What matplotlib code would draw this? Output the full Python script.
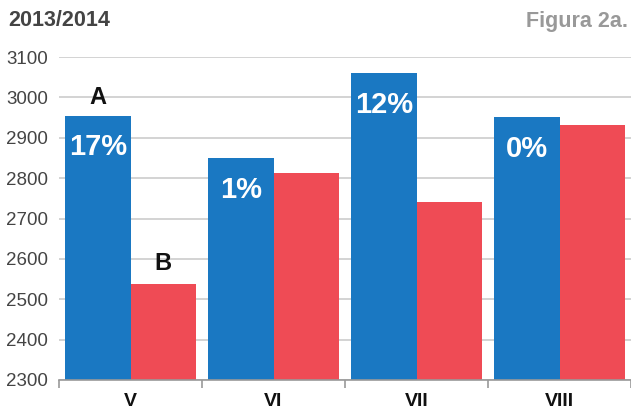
import matplotlib
matplotlib.use("Agg")
import matplotlib.pyplot as plt
import numpy as np

plt.rcParams['font.family'] = ['Liberation Sans', 'DejaVu Sans']

categories = ["V", "VI", "VII", "VIII"]
series_a = [2955, 2850, 3060, 2952]
series_b = [2537, 2812, 2742, 2932]
pct_labels = ["17%", "1%", "12%", "0%"]
yticks = [2300, 2400, 2500, 2600, 2700, 2800, 2900, 3000, 3100]

blue = "#1a78c2"
red = "#ef4b55"

fig = plt.figure(figsize=(6.31, 4.12), dpi=100)
ax = fig.add_axes([59/631, 1-380/412, 1-59/631, (380-57)/412])

x = np.arange(len(categories))
w = 0.455
ax.bar(x - w/2, series_a, width=w, color=blue, zorder=3)
ax.bar(x + w/2, series_b, width=w, color=red, zorder=3)

ax.set_ylim(2300, 3100)
ax.set_xlim(-0.5, 3.5)
ax.set_yticks(yticks)
ax.set_yticklabels([str(t) for t in yticks], fontsize=13.5, color="#444444")
ax.yaxis.grid(True, color="#cccccc", linewidth=1.2, zorder=0)
ax.tick_params(axis='y', length=0, pad=8)

ax.set_xticks([-0.5, 0.5, 1.5, 2.5, 3.5])
ax.set_xticklabels([])
ax.tick_params(axis='x', length=6, color="#999999", width=1.2, direction='out')
ax.set_xticks(x, minor=True)
ax.set_xticklabels(categories, minor=True, fontsize=14, fontweight='bold', color="#111111")
ax.tick_params(axis='x', which='minor', length=0, pad=9)

for s in ['top', 'right', 'left']:
    ax.spines[s].set_visible(False)
ax.spines['bottom'].set_color("#999999")
ax.spines['bottom'].set_linewidth(1.2)
ax.spines['bottom'].set_zorder(4)

for i, (v, p) in enumerate(zip(series_a, pct_labels)):
    ax.annotate(p, (x[i] - w/2, v), xytext=(0, -23), textcoords='offset points',
                ha='center', va='center', color='white', fontsize=21, fontweight='bold', zorder=5)

ax.annotate("A", (x[0] - w/2, series_a[0]), xytext=(0, 13), textcoords='offset points',
            ha='center', va='center', fontsize=17, fontweight='bold', color="#111111")
ax.annotate("B", (x[0] + w/2, series_b[0]), xytext=(0, 15), textcoords='offset points',
            ha='center', va='center', fontsize=17, fontweight='bold', color="#111111")

fig.text(8/631, 1-21/412, "2013/2014", fontsize=15.5, fontweight='bold', color="#444444", ha='left', va='center')
fig.text(628/631, 1-21/412, "Figura 2a.", fontsize=15.5, fontweight='bold', color="#999999", ha='right', va='center')

fig.savefig("out.png", dpi=100)
